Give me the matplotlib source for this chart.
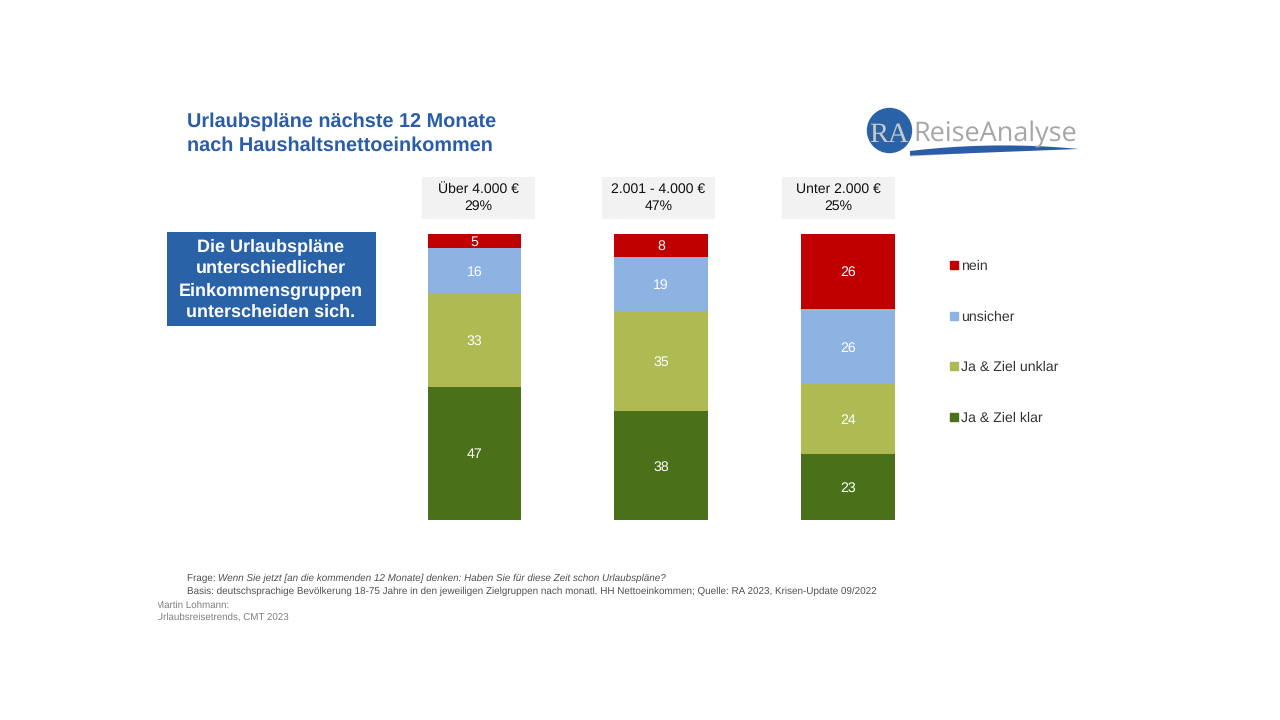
import numpy as np
import matplotlib
matplotlib.use("Agg")
import matplotlib.pyplot as plt
from matplotlib.patches import Rectangle, Circle, Polygon
from matplotlib.lines import Line2D

plt.rcParams['font.family'] = ['Liberation Sans', 'DejaVu Sans']
plt.rcParams['text.hinting'] = 'no_hinting'

groups = ["Über 4.000 €\n29%", "2.001 - 4.000 €\n47%", "Unter 2.000 €\n25%"]
series = ["Ja & Ziel klar", "Ja & Ziel unklar", "unsicher", "nein"]
ja_klar = [47, 38, 23]
ja_unklar = [33, 35, 24]
unsicher = [16, 19, 26]
nein = [5, 8, 26]
colors = ["#4A7119", "#AEBB53", "#8DB3E2", "#C00000"]
box_centers_px = [478, 658.5, 838.5]

W, H = 1280, 720
fig = plt.figure(figsize=(12.8, 7.2), dpi=100, facecolor="white")

# page overlay in pixel coordinates
bg = fig.add_axes([0, 0, 1, 1])
bg.set_xlim(0, W); bg.set_ylim(H, 0); bg.axis("off")

# chart axes
L, R, T, B = 380.9, 941.3, 234, 520
ax = fig.add_axes([L / W, 1 - B / H, (R - L) / W, (B - T) / H])
ax.patch.set_alpha(0)
rows = [ja_klar, ja_unklar, unsicher, nein]
totals = np.sum(rows, axis=0)
x = np.arange(len(groups))
bottom = np.zeros(len(groups))
for name, row, col in zip(series, rows, colors):
    share = np.array(row) / totals
    ax.bar(x, share, 0.5, bottom=bottom, color=col, label=name)
    for xi, b, s, v in zip(x, bottom, share, row):
        ax.annotate(str(v), (xi, b + s / 2), xytext=(0, -0.8), textcoords="offset points",
                    ha="center", va="center", color="white", fontsize=10.2)
    bottom += share
ax.set_xlim(-0.5, 2.5); ax.set_ylim(0, 1); ax.axis("off")

# group header boxes
for px, g in zip(box_centers_px, groups):
    bg.add_patch(Rectangle((px - 56.5, 177), 113, 41.5, fc="#F2F2F2", ec="none"))
    bg.text(px, 198, g, ha="center", va="center", fontsize=10.1, color="#111111", linespacing=1.35)

# legend
handles = [Line2D([], [], ls="none", marker="s", ms=6.0, color=c) for c in colors[::-1]]
ax.legend(handles, series[::-1], loc="upper left", bbox_to_anchor=((942 - L) / (R - L), 1 - (254 - T) / (B - T)),
          frameon=False, fontsize=10.2, labelspacing=2.66, handlelength=0.9, handletextpad=0.06,
          borderpad=0.4, borderaxespad=0, labelcolor="#333333")

# title
bg.text(187, 133.5, "Urlaubspläne nächste 12 Monate\nnach Haushaltsnettoeinkommen", fontsize=14.3, fontweight="bold",
        color="#2A5CA8", ha="left", va="center", linespacing=1.32)

# blue call-out
bg.add_patch(Rectangle((167, 232), 209, 94, fc="#2A62A8", ec="none"))
bg.text(271, 279.5, "Die Urlaubspläne\nunterschiedlicher\nEinkommensgruppen\nunterscheiden sich.", color="white",
        fontsize=13.0, fontweight="bold", ha="center", va="center", linespacing=1.38)

# logo
t = np.linspace(0, 1, 40)
xs = 910 + t * 169
upper = 151 - 5 * 4 * t * (1 - t) * 0.9 - 2 * t
lower = 155.5 - 6.5 * t
shadow_t = np.linspace(0, 1, 20)
sx = 910 + shadow_t * 60
bg.add_patch(Polygon(np.r_[np.c_[sx, 154 - 1.5 * shadow_t], np.c_[sx[::-1], (156.5 - 3.5 * shadow_t)[::-1]]],
                     fc="#BFBFBF", ec="none"))
bg.add_patch(Polygon(np.r_[np.c_[xs, upper], np.c_[xs[::-1], lower[::-1]]], fc="#2A5CA8", ec="none"))
bg.add_patch(Circle((889.5, 130.5), 22.7, fc="#2A62A8", ec="none"))
bg.text(889, 142, "RA", color="#C9C9C9", fontsize=20.5, family="Liberation Serif", ha="center", va="baseline")
bg.text(913, 142, "ReiseAnalyse", color="#A6A6A6", fontsize=19.45, family="Open Sans", ha="left", va="baseline")

# footnotes
bg.text(187, 578, "Frage: ", fontsize=7.09, color="#505050", ha="left", va="center")
bg.text(218.5, 578, "Wenn Sie jetzt [an die kommenden 12 Monate] denken: Haben Sie für diese Zeit schon Urlaubspläne?",
        fontsize=7.09, color="#505050", style="italic", ha="left", va="center")
bg.text(187, 591, "Basis: deutschsprachige Bevölkerung 18-75 Jahre in den jeweiligen Zielgruppen nach monatl. HH Nettoeinkommen; Quelle: RA 2023, Krisen-Update 09/2022",
        fontsize=7.09, color="#505050", ha="left", va="center")
clip = Rectangle((158, 595), 200, 35, transform=bg.transData)
for y, s in [(605, "Martin Lohmann:"), (617, "Urlaubsreisetrends, CMT 2023")]:
    tx = bg.text(156, y, s, fontsize=7.05, color="#7F7F7F", ha="left", va="center")
    tx.set_clip_path(clip)
    tx.set_clip_on(True)

fig.savefig("out.png", dpi=100, facecolor="white")
